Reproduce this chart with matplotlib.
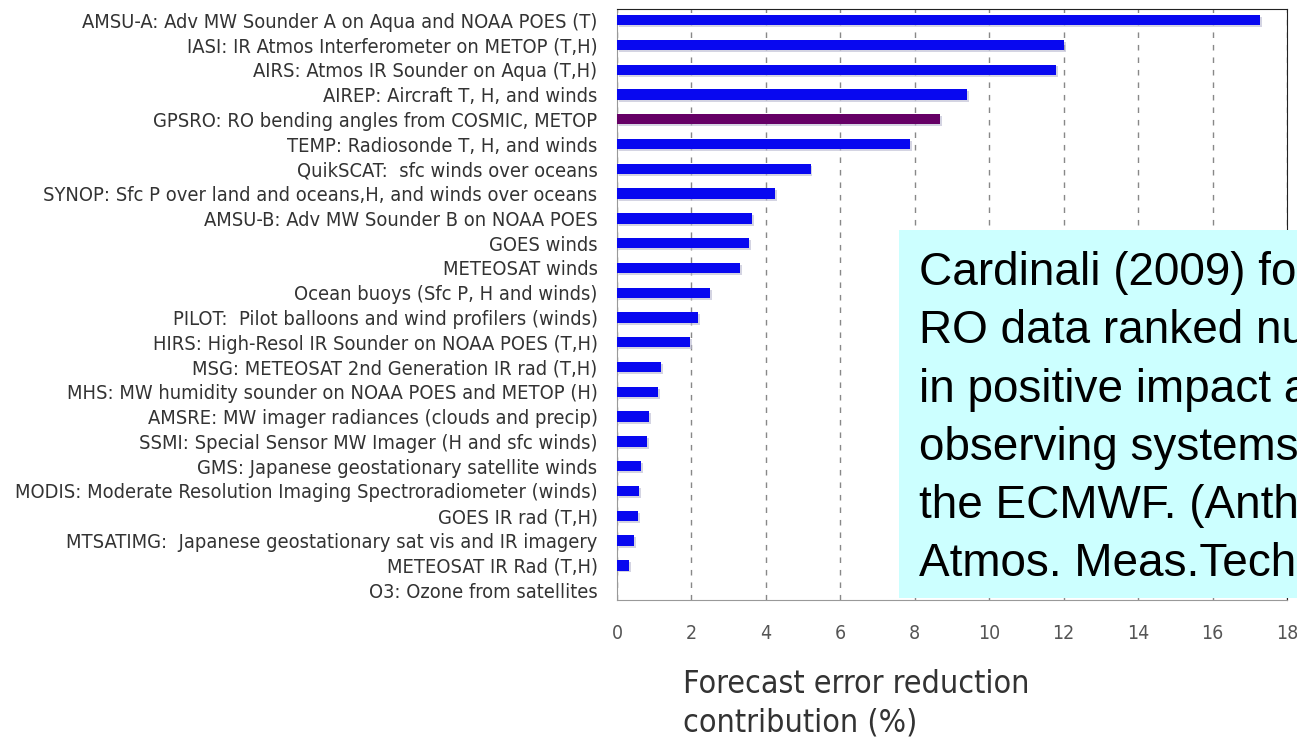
import matplotlib.pyplot as plt
from matplotlib.patches import Rectangle

systems = [
    "AMSU-A: Adv MW Sounder A on Aqua and NOAA POES (T)",
    "IASI: IR Atmos Interferometer on METOP (T,H)",
    "AIRS: Atmos IR Sounder on Aqua (T,H)",
    "AIREP: Aircraft T, H, and winds",
    "GPSRO: RO bending angles from COSMIC, METOP",
    "TEMP: Radiosonde T, H, and winds",
    "QuikSCAT:  sfc winds over oceans",
    "SYNOP: Sfc P over land and oceans,H, and winds over oceans",
    "AMSU-B: Adv MW Sounder B on NOAA POES",
    "GOES winds",
    "METEOSAT winds",
    "Ocean buoys (Sfc P, H and winds)",
    "PILOT:  Pilot balloons and wind profilers (winds)",
    "HIRS: High-Resol IR Sounder on NOAA POES (T,H)",
    "MSG: METEOSAT 2nd Generation IR rad (T,H)",
    "MHS: MW humidity sounder on NOAA POES and METOP (H)",
    "AMSRE: MW imager radiances (clouds and precip)",
    "SSMI: Special Sensor MW Imager (H and sfc winds)",
    "GMS: Japanese geostationary satellite winds",
    "MODIS: Moderate Resolution Imaging Spectroradiometer (winds)",
    "GOES IR rad (T,H)",
    "MTSATIMG:  Japanese geostationary sat vis and IR imagery",
    "METEOSAT IR Rad (T,H)",
    "O3: Ozone from satellites",
]
contribution = [17.28, 12.0, 11.8, 9.4, 8.68, 7.88, 5.2, 4.25, 3.63, 3.55, 3.3,
                2.5, 2.18, 1.96, 1.18, 1.1, 0.86, 0.8, 0.65, 0.6, 0.56, 0.45, 0.32, 0.0]
highlight = "GPSRO: RO bending angles from COSMIC, METOP"
xticks = [0, 2, 4, 6, 8, 10, 12, 14, 16, 18]

note = ("Cardinali (2009) found\n"
        "RO data ranked number 5\n"
        "in positive impact among\n"
        "observing systems used at\n"
        "the ECMWF. (Anthes, 2011,\n"
        "Atmos. Meas.Tech.)")

W, H = 1297, 745
fig = plt.figure(figsize=(W / 100, H / 100), dpi=100)
ax = fig.add_axes([617 / W, 1 - 600 / H, (1287 - 617) / W, (600 - 9) / H])

colors = ['#660066' if s == highlight else '#0808f0' for s in systems]
ypos = list(range(len(systems)))
# faint shadow under each bar
ax.barh([y + 0.08 for y in ypos], contribution, height=0.42, left=0.05,
        color='#b8b8d0', alpha=0.6, zorder=2)
ax.barh(ypos, contribution, height=0.42, color=colors, zorder=3)

ax.set_xlim(0, 18)
ax.set_ylim(len(systems) - 0.6, -0.45)
ax.set_xticks(xticks)
ax.set_yticks(ypos)
ax.set_yticklabels(systems, fontsize=14.4, color='#333333',
                   family='DejaVu Sans', stretch='condensed')
ax.set_xticklabels([str(t) for t in xticks], fontsize=14, color='#555555',
                   family='DejaVu Sans', stretch='condensed')
ax.tick_params(axis='y', length=0, pad=14)
ax.tick_params(axis='x', length=0, pad=17)
ax.grid(axis='x', linestyle=(0, (4, 5)), color='#888888', linewidth=1, zorder=0)

for side in ['left', 'bottom']:
    ax.spines[side].set_color('#999999')
for side in ['top', 'right']:
    ax.spines[side].set_color('#222222')

fig.text(683 / W, 1 - 669 / H, "Forecast error reduction\ncontribution (%)",
         fontsize=23, color='#333333', family='DejaVu Sans', stretch='condensed',
         ha='left', va='top', linespacing=1.3)

fig.add_artist(Rectangle((899 / W, 1 - 598 / H), (W - 899) / W + 0.05, (598 - 230) / H,
                         transform=fig.transFigure, facecolor='#ccffff',
                         edgecolor='none', zorder=5))
fig.text(919 / W, 1 - 251 / H, note, fontsize=33, color='black',
         family='Liberation Sans', ha='left', va='top', linespacing=1.42, zorder=6)

fig.savefig('out.png', dpi=100)
